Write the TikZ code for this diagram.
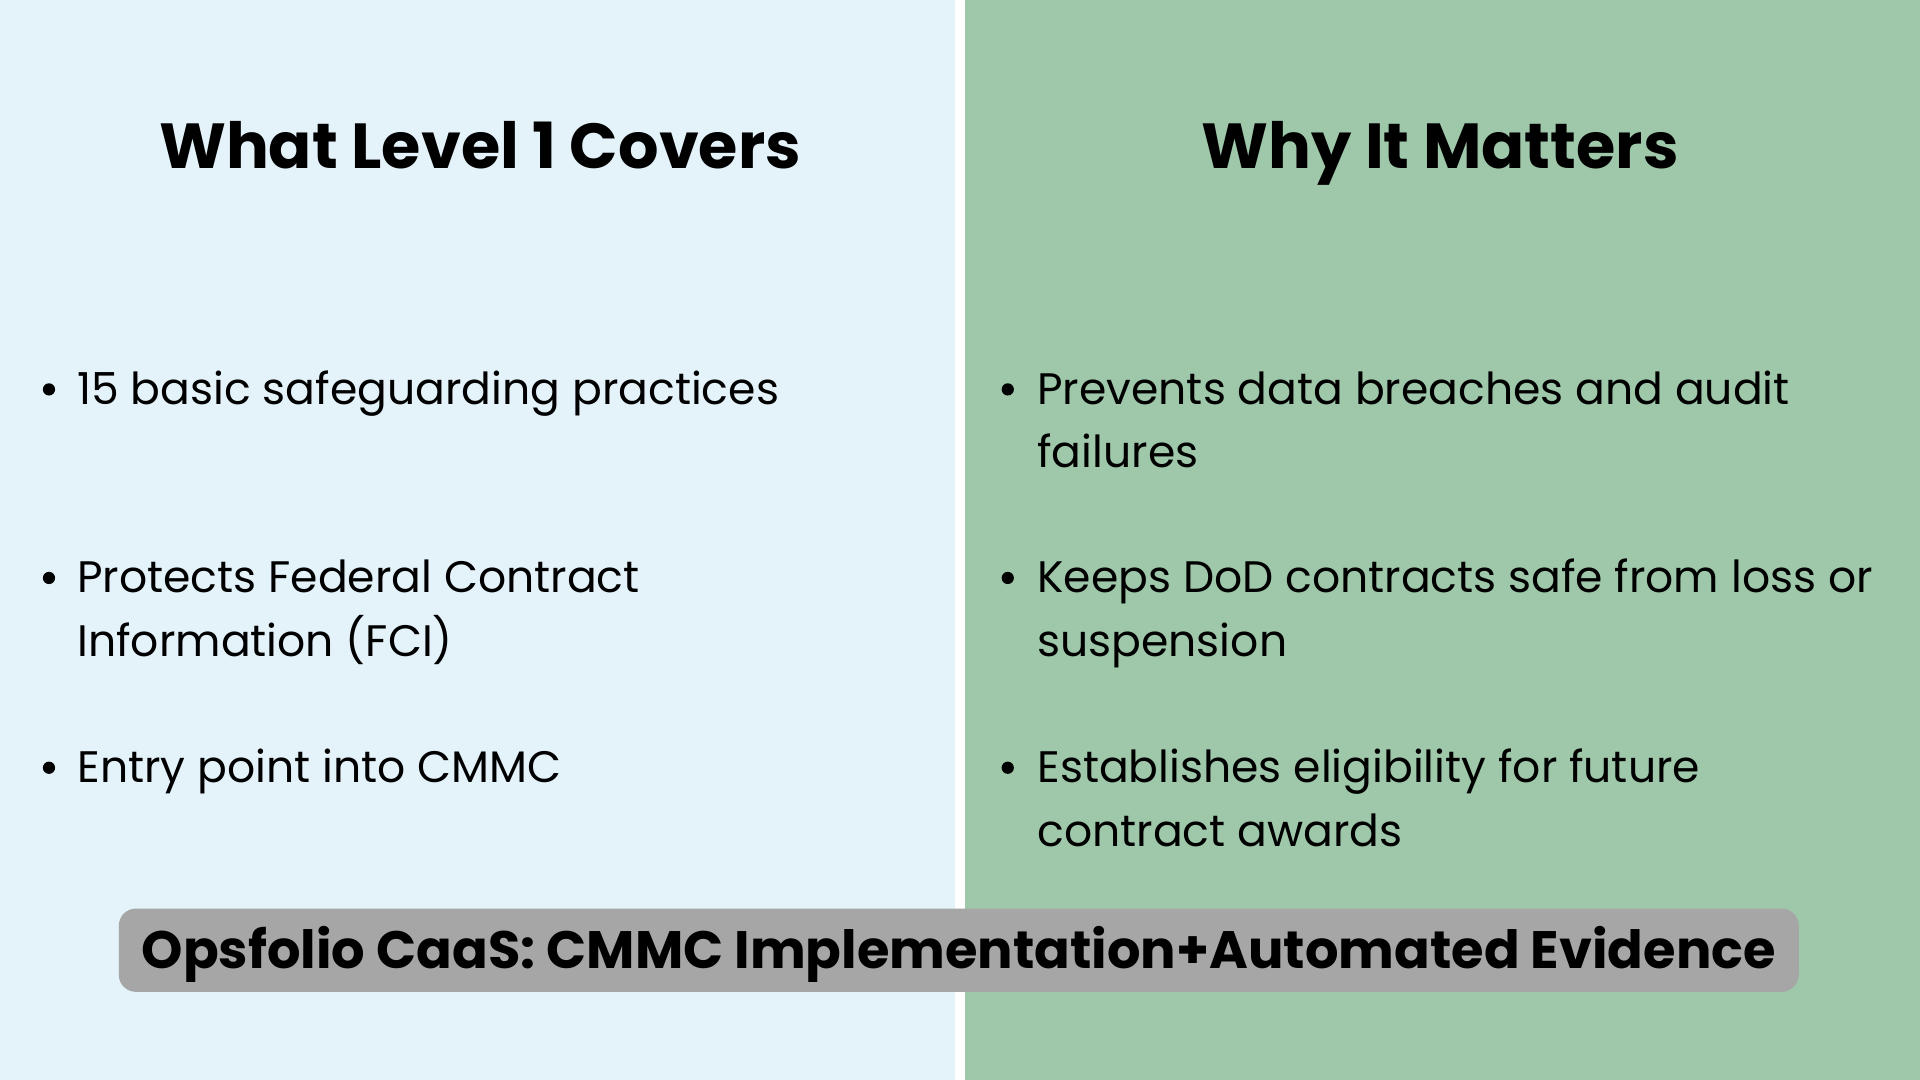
\documentclass[tikz,border=0pt]{standalone}
\usepackage{fontspec}
\setmainfont{Poppins}
\begin{document}
\begin{tikzpicture}[x=1pt,y=-1pt,
  title/.style={font=\fontsize{52}{60}\selectfont\bfseries, anchor=base},
  item/.style={font=\fontsize{36}{52}\selectfont, anchor=base west, inner sep=0pt},
  dot/.style={circle, fill=black, inner sep=0pt, minimum size=10pt}]
\useasboundingbox (0,0) rectangle (1568,882);
\fill[fill={rgb,255:red,228;green,242;blue,250}] (0,0) rectangle (780,882);
\fill[white] (780,0) rectangle (788,882);
\fill[fill={rgb,255:red,159;green,200;blue,170}] (788,0) rectangle (1568,882);
\node[title] (tl) at (392,138) {What Level 1 Covers};
\node[title] (tr) at (1176,138) {Why It Matters};
\node[dot] (d1) at (40,318) {};
\node[item] (l1) at (63,330) {15 basic safeguarding practices};
\node[dot] (d2) at (40,472) {};
\node[item] (l2a) at (63,484) {Protects Federal Contract};
\node[item] (l2b) at (63,536) {Information (FCI)};
\node[dot] (d3) at (40,627) {};
\node[item] (l3) at (63,639) {Entry point into CMMC};
\node[dot] (d4) at (823,318) {};
\node[item] (r1a) at (847,330) {Prevents data breaches and audit};
\node[item] (r1b) at (847,382) {failures};
\node[dot] (d5) at (823,472) {};
\node[item] (r2a) at (847,484) {Keeps DoD contracts safe from loss or};
\node[item] (r2b) at (847,536) {suspension};
\node[dot] (d6) at (823,627) {};
\node[item] (r3a) at (847,639) {Establishes eligibility for future};
\node[item] (r3b) at (847,691) {contract awards};
\fill[fill={rgb,255:red,166;green,166;blue,166}, rounded corners=14pt] (97,742) rectangle (1469,810);
\node[font=\fontsize{43}{50}\selectfont\bfseries, anchor=base] (banner) at (783,791) {Opsfolio CaaS: CMMC Implementation+Automated Evidence};
\end{tikzpicture}
\end{document}
